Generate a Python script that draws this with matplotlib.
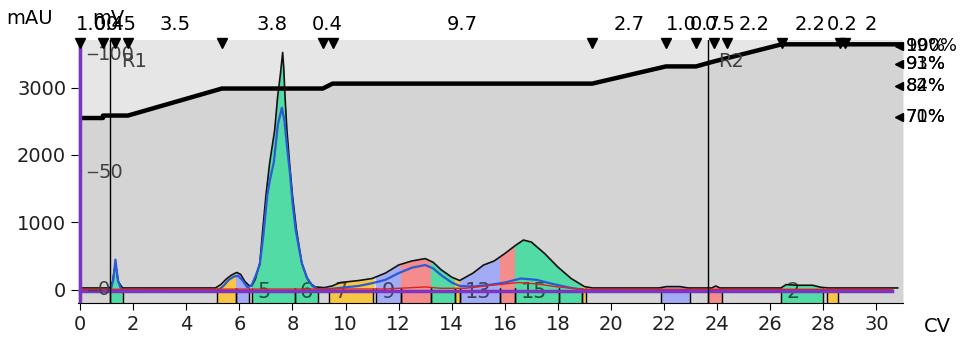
import numpy as np
import matplotlib.pyplot as plt
from matplotlib.patches import Rectangle

plt.rcParams['font.family'] = 'DejaVu Sans'

# UV trace (black, outer) in mAU vs column volumes
uv_cv = [0, 1.12, 1.22, 1.33, 1.44, 1.6, 5.1, 5.3, 5.5, 5.7, 5.9, 6.05, 6.2, 6.35, 6.47,
         6.6, 6.77, 6.88, 7.0, 7.14, 7.33, 7.44, 7.55, 7.63, 7.67, 7.72, 7.79, 7.89, 8.0,
         8.15, 8.35, 8.55, 8.7, 8.85, 9.2, 9.5, 9.8, 10.5, 11.0, 11.5, 12.0, 12.5, 13.0,
         13.3, 13.6, 14.0, 14.3, 14.8, 15.2, 15.6, 16.0, 16.4, 16.7, 17.0, 17.5, 18.0,
         18.5, 19.0, 19.3, 21.8, 22.1, 22.6, 22.9, 23.8, 23.95, 24.1, 26.4, 26.6, 27.0,
         27.6, 27.9, 28.2, 30.8]
uv_mau = [30, 30, 120, 400, 120, 30, 30, 80, 160, 220, 260, 230, 130, 70, 60,
          160, 400, 890, 1400, 1880, 2370, 2860, 3215, 3520, 3300, 2860, 2370, 1880, 1400,
          890, 400, 170, 90, 45, 35, 60, 110, 140, 170, 250, 370, 430, 465,
          410, 300, 190, 140, 250, 370, 430, 540, 660, 740, 710, 540, 340,
          170, 50, 30, 30, 50, 50, 30, 30, 60, 30, 30, 80, 70,
          70, 40, 30, 30]

# second UV trace (blue)
blue_cv = [0, 1.15, 1.25, 1.33, 1.42, 1.55, 5.2, 5.4, 5.6, 5.8, 5.95, 6.1, 6.3, 6.45,
           6.6, 6.77, 6.9, 7.05, 7.15, 7.3, 7.45, 7.6, 7.7, 7.8, 7.9, 8.0, 8.12, 8.35,
           8.55, 8.75, 8.95, 9.5, 10.5, 11.0, 11.5, 12.0, 12.5, 13.0, 13.3, 13.6, 14.0,
           14.3, 14.8, 15.5, 16.0, 16.6, 17.2, 17.8, 18.5, 19.0, 30.6]
blue_mau = [-5, -5, 150, 450, 150, 0, -5, 60, 150, 200, 210, 150, 40, 60,
            200, 380, 800, 1400, 1630, 1900, 2450, 2700, 2500, 2100, 1750, 1300, 890, 400,
            180, 60, 10, 20, 60, 100, 150, 250, 330, 370, 320, 220, 110,
            60, 50, 80, 110, 170, 150, 90, 30, 0, -5]

# third trace (red)
red_cv = [0, 11.5, 12.5, 13.0, 13.6, 14.5, 15.5, 16.5, 17.2, 18.0, 19.0, 30.6]
red_mau = [10, 15, 35, 45, 25, 25, 70, 110, 90, 45, 10, 10]

# conductivity-like trace (purple)
purple_cv = [0, 30.6]
purple_mau = [-15, -15]

# gradient (%B)
grad_cv = [0, 0.86, 0.86, 1.8, 5.34, 9.14, 9.51, 19.29, 22.07, 23.2, 23.87, 26.43, 31.0]
grad_pct = [70, 70, 71, 71, 82, 82, 84, 84, 91, 91, 93, 100, 100]
pct_pairs = [(100, 99), (93, 91), (82, 84), (70, 71)]

# events on top
event_cv = [0, 0.86, 1.3, 1.8, 5.34, 9.14, 9.51, 19.29, 22.07, 23.2, 23.87, 24.36,
            26.43, 28.61, 28.8]
event_lbl = ['1.0', '0.4', '0.5', '3.5', '3.8', '0.4', '9.7', '2.7', '1.0', '0.7', '0.5',
             '2.2', '2.2', '0.2', '2']
run_end = 30.8

# fractions
frac_start = [1.13, 5.15, 5.86, 6.47, 8.08, 9.36, 11.16, 12.1, 13.23, 14.13, 14.3, 15.8,
              16.4, 18.05, 18.9, 21.9, 23.65, 26.4, 28.15]
frac_end = [1.62, 5.86, 6.36, 8.08, 8.98, 11.05, 12.1, 13.23, 14.13, 14.3, 15.8, 16.4,
            18.05, 18.9, 19.06, 22.97, 24.17, 28.0, 28.57]
frac_color = ['g', 'y', 'b', 'g', 'g', 'y', 'b', 'r', 'g', 'y', 'b', 'r',
              'g', 'g', 'y', 'b', 'r', 'g', 'y']
frac_label = ['', '', '', '5', '6', '7', '9', '', '', '', '13', '',
              '15', '', '', '', '', '2', '']

marks = [('R1', 1.13), ('R2', 23.65)]
mv_ticks = [0, 50, 100]

cols = {'g': '#52dba5', 'y': '#f7c744', 'b': '#a3abf5', 'r': '#f58c8c'}
pct_scale = 36.4   # mAU per %
mv_scale = 34.96   # mAU per mV

fig = plt.figure(figsize=(9.8, 3.43), dpi=100)
ax = fig.add_axes([0.0796, 0.1166, 0.8418, 0.7668])
ymin, ymax = -193, 3704
ax.set_xlim(-0.08, 31.0)
ax.set_ylim(ymin, ymax)
ax.set_facecolor('#e6e6e6')

grad_mau = np.array(grad_pct) * pct_scale
ax.fill_between(grad_cv, ymin, grad_mau, color='#d4d4d4', lw=0, zorder=0.5)

# fraction fills clipped to their CV ranges
for a, b, c, lab in zip(frac_start, frac_end, frac_color, frac_label):
    poly = ax.fill_between(uv_cv, ymin, uv_mau, color=cols[c], lw=0, zorder=1)
    poly.set_clip_path(Rectangle((a, ymin), b - a, ymax - ymin, transform=ax.transData))
    ax.vlines([a, b], ymin, 25, color='black', lw=1, zorder=2)
    if lab:
        ax.text(a + 0.2, -25, lab, fontsize=15, color='black', alpha=0.62,
                ha='left', va='center', zorder=3)

ax.plot(grad_cv, grad_mau, color='black', lw=3.2, zorder=4, solid_capstyle='butt')
ax.plot(uv_cv, uv_mau, color='#111111', lw=1.2, zorder=5)
ax.plot(blue_cv, blue_mau, color='#2b5ad8', lw=1.6, zorder=6)
ax.plot(red_cv, red_mau, color='#e02020', lw=1, zorder=6)
ax.plot(purple_cv, purple_mau, color='#7b35c0', lw=2.5, zorder=6.5)
ax.axvline(0, color='#7b35c0', lw=2.5, zorder=6.5)

for name, x in marks:
    ax.axvline(x, color='black', lw=1, zorder=7)
    ax.text(x + 0.4, 3380, name, fontsize=14, color='#404040', ha='left', va='center', zorder=7)

# inner mV axis
for v in mv_ticks:
    y = v * mv_scale
    ax.plot([0.3, 0.62], [y, y], color='#404040', lw=1, zorder=7)
    ax.text(0.68, y, str(v), fontsize=14, color='#404040', ha='left', va='center', zorder=7)

# event markers and labels on top
xt = ax.get_xaxis_transform()
ax.plot(event_cv, [0.99] * len(event_cv), transform=xt, marker='v', ls='none',
        color='black', ms=6.5, clip_on=False, zorder=8)
ends = event_cv[1:] + [run_end]
for a, b, lab in zip(event_cv, ends, event_lbl):
    ax.text((a + b) / 2, 1.06, lab, transform=xt, fontsize=14, ha='center', va='center')

# gradient labels on the right (overlapping pairs, as in the software export)
for pair in pct_pairs:
    y = np.mean(pair) * pct_scale
    ax.plot([30.85], [y], marker='<', ls='none', color='black', ms=6, clip_on=False, zorder=8)
    for v in pair:
        ax.annotate(f'{v}%', (30.85, y), xytext=(5, 0), textcoords='offset points',
                    fontsize=13, va='center', ha='left', annotation_clip=False)

ax.set_xticks(range(0, 31, 2))
ax.set_yticks([0, 1000, 2000, 3000])
ax.tick_params(axis='both', length=5, labelsize=14, labelcolor='#202020')
for s in ['top', 'right', 'left']:
    ax.spines[s].set_visible(False)

fig.text(30 / 980, 1 - 18 / 343, 'mAU', fontsize=14, ha='center', va='center')
fig.text(108 / 980, 1 - 18 / 343, 'mV', fontsize=14, ha='center', va='center')
fig.text(937 / 980, 1 - 327 / 343, 'CV', fontsize=14, ha='center', va='center')

fig.savefig('out.png', dpi=100)
